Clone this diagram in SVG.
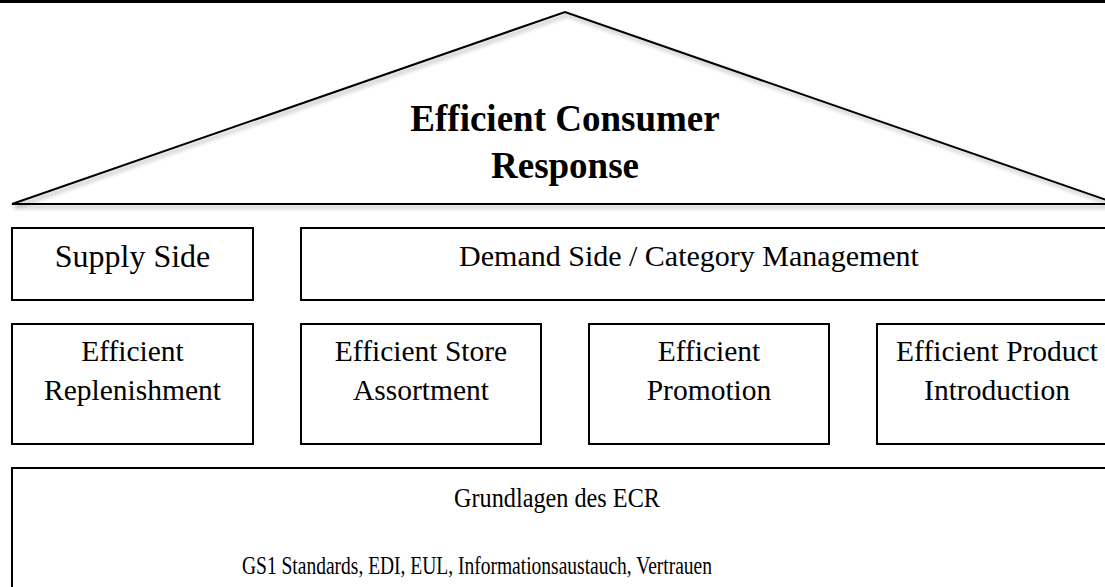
<svg xmlns="http://www.w3.org/2000/svg" width="1105" height="587" viewBox="0 0 1105 587">
  <defs>
    <filter id="soft-shadow" x="-5%" y="-5%" width="110%" height="120%">
      <feDropShadow dx="2" dy="3" stdDeviation="2" flood-color="#000" flood-opacity="0.35"/>
    </filter>
  </defs>
  <style>
    .frame { fill: none; stroke: #000; stroke-width: 3; }
    .roof { fill: none; stroke: #000; stroke-width: 2; stroke-linejoin: miter; }
    .box { fill: #fff; stroke: #000; stroke-width: 2; }
    .label { font-family: "Liberation Serif", "Times New Roman", serif; font-size: 29.5px; fill: #000; text-anchor: middle; }
    .title { font-family: "Liberation Serif", "Times New Roman", serif; font-size: 37px; font-weight: bold; fill: #000; text-anchor: middle; }
    .big { font-size: 32px; }
  </style>

  <rect width="1105" height="587" fill="#fff"/>

  <!-- top border -->
  <line class="frame" x1="0" y1="1.5" x2="1105" y2="1.5"/>

  <!-- roof -->
  <g id="roof">
    <polygon class="roof" points="12,204 565,12 1118,204" filter="url(#soft-shadow)"/>
    <text class="title" x="565" y="131">Efficient Consumer</text>
    <text class="title" x="565" y="178">Response</text>
  </g>

  <!-- upper row -->
  <g id="supply-side">
    <rect class="box" x="12" y="228" width="241" height="72"/>
    <text class="label big" x="132.5" y="267">Supply Side</text>
  </g>
  <g id="demand-side">
    <rect class="box" x="301" y="228" width="817" height="72"/>
    <text class="label" x="689" y="266" style="font-size:30px">Demand Side / Category Management</text>
  </g>

  <!-- pillars -->
  <g id="efficient-replenishment">
    <rect class="box" x="12" y="324" width="241" height="120"/>
    <text class="label" x="132.5" y="361">Efficient</text>
    <text class="label" x="132.5" y="400">Replenishment</text>
  </g>
  <g id="efficient-store-assortment">
    <rect class="box" x="301" y="324" width="240" height="120"/>
    <text class="label" x="421" y="361">Efficient Store</text>
    <text class="label" x="421" y="400">Assortment</text>
  </g>
  <g id="efficient-promotion">
    <rect class="box" x="589" y="324" width="240" height="120"/>
    <text class="label" x="709" y="361">Efficient</text>
    <text class="label" x="709" y="400">Promotion</text>
  </g>
  <g id="efficient-product-introduction">
    <rect class="box" x="877" y="324" width="241" height="120"/>
    <text class="label" x="997" y="361">Efficient Product</text>
    <text class="label" x="997" y="400">Introduction</text>
  </g>

  <!-- foundation: condensed lettering -->
  <g id="grundlagen">
    <rect class="box" x="12" y="468" width="1106" height="130"/>
    <text class="label" x="557" y="507" style="font-size:27px" textLength="206" lengthAdjust="spacingAndGlyphs">Grundlagen des ECR</text>
    <text class="label" x="477" y="574" style="font-size:26px" textLength="470" lengthAdjust="spacingAndGlyphs">GS1 Standards, EDI, EUL, Informationsaustauch, Vertrauen</text>
  </g>

  <g id="connectors"/>
</svg>
